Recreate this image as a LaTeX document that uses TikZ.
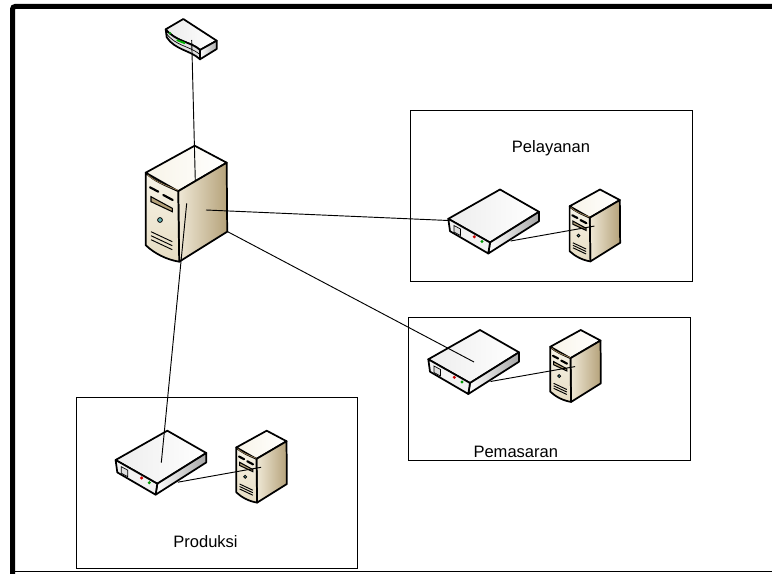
\documentclass[tikz,border=0pt]{standalone}
\usepackage{fontspec}
\setmainfont{Liberation Sans}
\usetikzlibrary{positioning}
\definecolor{creamtop}{HTML}{F8F4E8}
\definecolor{creammid}{HTML}{EFE8D6}
\definecolor{tanside}{HTML}{B5A27A}
\definecolor{creamfront}{HTML}{E6DCC2}
\definecolor{tanline}{HTML}{A88C5E}

\tikzset{
server/.pic={
 \filldraw[line width=1.3pt,left color=creamtop,right color=white,line join=round]
  (0,0)--(32,17)--(-16.5,45.5)--(-49,27)--cycle;
 \filldraw[line width=1.3pt,left color=creammid,right color=tanside,line join=round]
  (-16.5,45.5)--(32,17)--(32.5,86)--(-15.5,116)--cycle;
 \filldraw[line width=1.3pt,top color=creamtop,bottom color=creamfront,line join=round]
  (-49,27) .. controls (-40,36) and (-28,40) .. (-16.5,45.5)--(-15.5,116) .. controls (-28,114) and (-40,108) .. (-49,99.5)--cycle;
 \draw[tanline,line width=.5pt] (-47,29) .. controls (-40,36) and (-28,40) .. (-17,44.5);
 \draw[line width=1.6pt,line cap=round] (-44.7,41.6)--(-36.4,46) (-31.4,49.3)--(-22,54.3);
 \filldraw[line width=.8pt,fill=tanside] (-43.7,51)--(-22.4,62.6)--(-22.4,66)--(-43.7,56)--cycle;
 \draw[line width=.6pt,fill=teal!60] (-34.7,74.3) circle (2.4);
 \foreach \i in {0,4,8}
  \draw[line width=.7pt] (-43.7,86+\i)--(-22.4,96+\i);
 \coordinate (-top) at (0.6,35);
 \coordinate (-side) at (11.3,64.3);
 \coordinate (-front) at (-8,57.6);
 \coordinate (-edge) at (33,86);
 \coordinate (-port) at (-9,59);
},
switchbox/.pic={
 \filldraw[line width=1.3pt,left color=gray!14,right color=white,line join=round]
  (0,0)--(39,22.3)--(-10,53)--(-51.7,29.3)--cycle;
 \filldraw[line width=1.3pt,left color=white,right color=gray!70,line join=round]
  (-10,53)--(39,22.3)--(39,31.7)--(-11.7,64)--cycle;
 \filldraw[line width=1.3pt,fill=gray!10,line join=round]
  (-51.7,29.3)--(-10,53)--(-11.7,64)--(-50,41.7)--cycle;
 \draw[line width=.5pt,fill=gray!25] (-46,36)--(-39.5,39.5)--(-39.5,46)--(-46,42.5)--cycle;
 \fill[red!80!black] (-25.7,47.3) circle (1.7);
 \fill[green!60!black] (-18,52) circle (1.7);
 \coordinate (-left) at (-51.7,31);
 \coordinate (-apex) at (-6,32);
 \coordinate (-port) at (10.5,51.5);
}
}

\begin{document}
\begin{tikzpicture}[x=.75pt,y=-.75pt]
\tikzstyle{every node}=[font=\fontsize{12.4pt}{14pt}\selectfont]
\tikzstyle{link}=[line width=.7pt]
\useasboundingbox (0,0) rectangle (772,574);
% frame
\draw[line width=3.75pt,rounded corners=2pt] (12.5,574)--(12.5,6.5)--(772,6.5);
\draw[line width=1.2pt] (12.5,571.5)--(772,571.5);
% groups
\draw[line width=.5pt] (410,110) rectangle (692,281);
\draw[line width=.5pt] (408,317) rectangle (690,460);
\draw[line width=.5pt] (76,397) rectangle (357,568);
\node (pelayanan) at (551,148) {Pelayanan};
\node (pemasaran) at (515.8,452) {Pemasaran};
\node (produksi) at (205.5,542) {Produksi};
% devices
\pic[scale=.62] (srvpelayanan) at (600,189.5) {server};
\pic (swpelayanan) at (500,189.5) {switchbox};
\pic[scale=.62] (srvpemasaran) at (580.7,330) {server};
\pic (swpemasaran) at (480,330) {switchbox};
\pic[scale=.62] (srvproduksi) at (266.7,430.7) {server};
\pic (swproduksi) at (167.3,430.7) {switchbox};
\pic (srvmain) at (194.7,145.7) {server};
% modem
\filldraw[line width=1.3pt,left color=gray!15,right color=white,line join=round] (183.3,19)--(216.7,40.7)--(200,50) .. controls (192,42) and (176,42) .. (165.7,29.3)--cycle;
\filldraw[line width=1.3pt,left color=white,right color=gray!65,line join=round] (200,50)--(216.7,40.7)--(216.7,49)--(200,59.3)--cycle;
\filldraw[line width=1.3pt,fill=gray!25,line join=round] (165.7,29.3)--(166.7,37.3) .. controls (175,50) and (190,50) .. (200,59.3)--(200,50) .. controls (192,42) and (176,42) .. (165.7,29.3)--cycle;
\draw[line width=.5pt] (166,33) .. controls (175,46) and (190,46) .. (200,54.5);
\fill[green!60!black] (170,33.3) circle (1.3);
\draw[green!70!black,line width=1.4pt] (176.7,40)--(185,43.3);
\coordinate (modem-port) at (191.7,40);
% links
\draw[link] (modem-port)--(srvmain-top);
\draw[link] (srvmain-side)--(swpelayanan-left);
\draw[link] (srvmain-edge)--(swpemasaran-apex);
\draw[link] (srvmain-front)--(swproduksi-apex);
\draw[link] (swpelayanan-port)--(srvpelayanan-port);
\draw[link] (swpemasaran-port)--(srvpemasaran-port);
\draw[link] (swproduksi-port)--(srvproduksi-port);
\end{tikzpicture}
\end{document}
